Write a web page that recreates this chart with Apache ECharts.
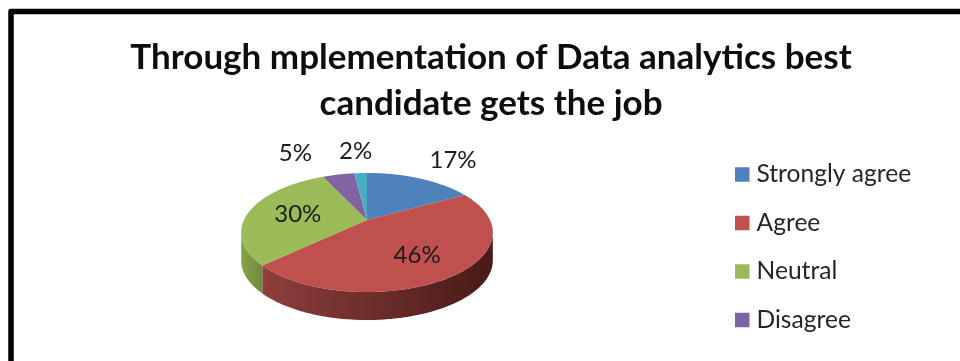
<!DOCTYPE html>
<html>
<head>
<meta charset="utf-8">
<style>html,body{margin:0;padding:0;background:#fff}#chart{width:960px;height:361px}</style>
<script src="https://cdn.jsdelivr.net/npm/echarts@6/dist/echarts.min.js"></script>
</head>
<body>
<div id="chart"></div>
<script>
// Survey responses, in percent
const categories = ['Strongly agree', 'Agree', 'Neutral', 'Disagree', 'Strongly disagree'];
const shares = [17, 46, 30, 5, 2];
const legendEntries = ['Strongly agree', 'Agree', 'Neutral', 'Disagree'];
const titleLines = ['Through mplementation of Data analytics best', 'candidate gets the job'];

const colors = ['#4f81bd', '#c0504d', '#9bbb59', '#8064a2', '#4bacc6'];
const wallColors = [
  ['#3f6797', '#2b4768'],
  ['#8f3f3c', '#481a18'],
  ['#86a34b', '#71893f'],
  ['#664f82', '#4a3a5f'],
  ['#3b8a9e', '#2a6473']
];

// Tilted disc: a projective mapping of the unit circle, extruded downwards
const disc = { cx: 367, cy: 220, a: 123, b: 56.9, p: 0.21, depth: 28 };
const frontFrom = 102, frontTo = 258;   // angles of the visible rim, clockwise from top
const labelFont = '24px Lato, sans-serif';
// Label shift from the projected rim point at the middle of each slice
const labelNudge = [[33, -18], [-37, -20], [47, 5], [-43, -21], [-5, -22]];

function project(deg, r) {
  const t = deg * Math.PI / 180;
  const u = r * Math.sin(t), v = r * Math.cos(t);
  const w = 1 + disc.p * v;
  return [disc.cx + disc.a * u / w, disc.cy - disc.b * v / w];
}

function arc(from, to, drop) {
  const pts = [];
  const n = Math.max(2, Math.ceil(to - from));
  for (let i = 0; i <= n; i++) {
    const q = project(from + (to - from) * i / n, 1);
    pts.push([q[0], q[1] + drop]);
  }
  return pts;
}

function sliceRenderer(index) {
  return function (params, api) {
    const start = api.value(0) * 3.6;
    const end = start + api.value(1) * 3.6;
    const children = [];
    const wallFrom = Math.max(start, frontFrom);
    const wallTo = Math.min(end, frontTo);
    if (wallTo > wallFrom) {
      const upper = arc(wallFrom, wallTo, 0);
      const lower = arc(wallFrom, wallTo, disc.depth).reverse();
      children.push({
        type: 'polygon',
        z2: 1,
        shape: { points: upper.concat(lower) },
        style: {
          // Shaded rim: darker towards the right-hand side of the disc
          fill: {
            type: 'linear', x: 0, y: 0, x2: 1, y2: 0,
            colorStops: [
              { offset: 0, color: wallColors[index][0] },
              { offset: 1, color: wallColors[index][1] }
            ]
          }
        }
      });
    }
    children.push({
      type: 'polygon',
      z2: 2,
      shape: { points: [[disc.cx, disc.cy]].concat(arc(start, end, 0)) },
      style: { fill: colors[index] }
    });
    const mid = project((start + end) / 2, 1);
    children.push({
      type: 'text',
      z2: 5,
      x: mid[0] + labelNudge[index][0],
      y: mid[1] + labelNudge[index][1],
      style: {
        text: api.value(1) + '%',
        font: labelFont,
        fill: '#1c1c1c',
        align: 'center',
        verticalAlign: 'middle'
      }
    });
    return { type: 'group', children: children };
  };
}

let running = 0;
const series = categories.map((name, i) => {
  const item = {
    type: 'custom',
    name: name,
    coordinateSystem: 'none',
    silent: true,
    animation: false,
    itemStyle: { color: colors[i] },
    data: [[running, shares[i]]],
    renderItem: sliceRenderer(i)
  };
  running += shares[i];
  return item;
});

const chart = echarts.init(document.getElementById('chart'), null, { renderer: 'canvas' });
chart.setOption({
  backgroundColor: '#ffffff',
  animation: false,
  title: {
    text: titleLines.join('\n'),
    left: 486,
    top: 30,
    textAlign: 'center',
    textStyle: {
      fontFamily: 'Lato, sans-serif',
      fontWeight: 'bold',
      fontSize: 35,
      lineHeight: 46,
      color: '#0d0d0d'
    }
  },
  legend: {
    data: legendEntries,
    orient: 'vertical',
    left: 735,
    top: 162,
    padding: 0,
    icon: 'rect',
    itemWidth: 14.5,
    itemHeight: 14.5,
    itemGap: 23.5,
    selectedMode: false,
    textStyle: {
      fontFamily: 'Lato, sans-serif',
      fontSize: 24.6,
      lineHeight: 24,
      padding: [0, 0, 0, 2],
      color: '#262626'
    }
  },
  graphic: [{
    type: 'polyline',
    z: 10,
    shape: { points: [[11, 361], [11, 11.5], [960, 11.5]] },
    style: { fill: null, stroke: '#000000', lineWidth: 5.5, lineJoin: 'round' }
  }],
  series: series
});
</script>
</body>
</html>
